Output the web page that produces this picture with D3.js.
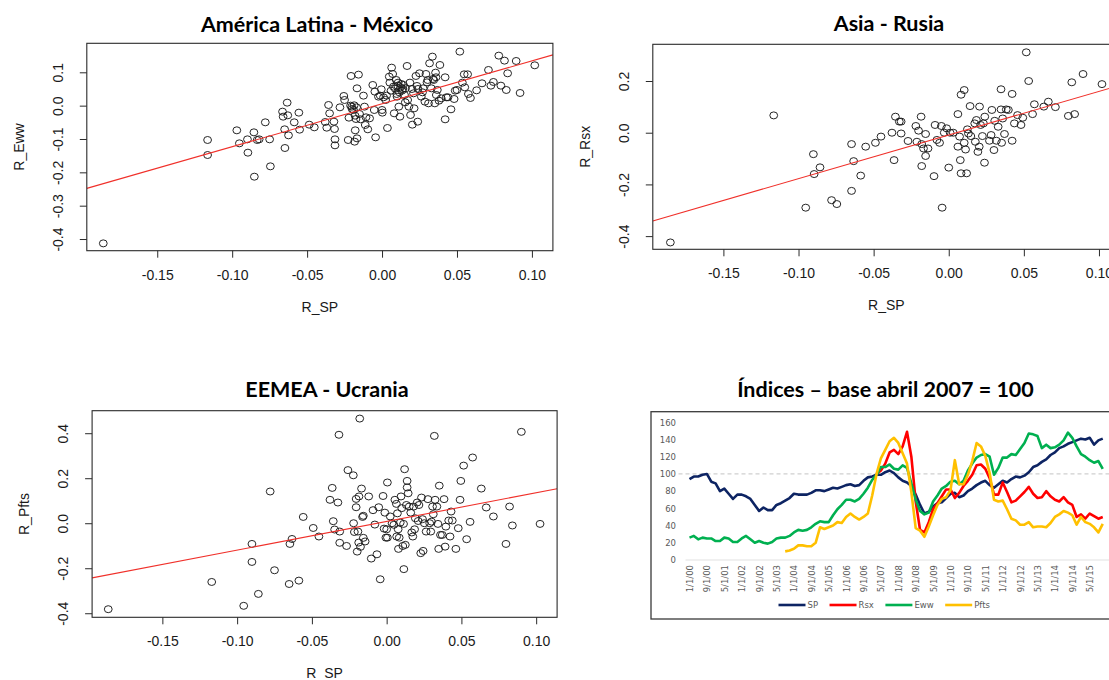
<!DOCTYPE html>
<html>
<head>
<meta charset="utf-8">
<script src="https://cdn.jsdelivr.net/npm/d3@7"></script>
<style>
  body { margin: 0; background: #ffffff; }
  svg { display: block; }
</style>
</head>
<body>
<svg id="chart" width="1109" height="680"></svg>
<script>
// ---------------------------------------------------------------
// Monthly returns: ETF vs S&P 500 (R_SP), with fitted OLS lines
// ---------------------------------------------------------------
const spTicks = [-0.15, -0.10, -0.05, 0.00, 0.05, 0.10];
const spDomain = [-0.197, 0.114];

const mexicoTicks = [-0.4, -0.3, -0.2, -0.1, 0.0, 0.1];
const mexicoDomain = [-0.435, 0.187];
const mexicoFit = [0.0055, 1.287];           // intercept, slope
const mexicoPoints = [
  [-0.186,-0.413],[-0.1164,-0.103],[-0.1164,-0.148],[-0.0969,-0.074],[-0.0952,-0.113],[-0.0898,-0.101],
  [-0.0895,-0.141],[-0.0855,-0.080],[-0.0852,-0.213],[-0.0833,-0.103],[-0.082,-0.101],[-0.0779,-0.050],
  [-0.075,-0.101],[-0.0745,-0.182],[-0.0664,-0.018],[-0.066,-0.033],[-0.065,-0.071],[-0.0648,-0.127],
  [-0.0633,0.009],[-0.0629,-0.029],[-0.0624,-0.089],[-0.0586,-0.050],[-0.0555,-0.021],[-0.055,-0.072],
  [-0.0486,-0.057],[-0.0452,-0.065],[-0.0379,-0.049],[-0.0369,-0.066],[-0.0357,0.002],[-0.035,-0.023],
  [-0.0321,-0.048],[-0.0317,-0.070],[-0.0314,-0.101],[-0.0314,-0.119],[-0.0281,-0.005],[-0.0255,0.029],
  [-0.025,0.017],[-0.0226,-0.103],[-0.0221,-0.036],[-0.0207,0.089],[-0.0202,-0.003],[-0.019,-0.013],
  [-0.0186,0.001],[-0.0183,-0.108],[-0.0179,-0.074],[-0.0174,-0.040],[-0.0167,0.052],[-0.0167,-0.098],
  [-0.0157,0.093],[-0.015,-0.025],[-0.0143,-0.041],[-0.0124,0.030],[-0.0117,-0.003],[-0.0112,-0.058],
  [-0.0107,-0.035],[-0.0095,-0.071],[-0.0083,-0.038],[-0.0062,0.062],[-0.0052,-0.013],[-0.0048,0.042],
  [-0.0043,-0.095],[-0.0024,0.027],[-0.0012,0.030],[-0.0005,0.049],[0.0,-0.013],[0.0002,-0.021],
  [0.0024,0.017],[0.0036,-0.067],[0.0048,0.087],[0.0052,0.069],[0.0064,0.114],[0.0071,0.095],
  [0.0076,0.057],[0.0081,-0.023],[0.0088,0.051],[0.0095,0.077],[0.01,0.027],[0.0107,0.069],
  [0.0112,-0.003],[0.0119,-0.033],[0.0124,0.055],[0.0133,0.045],[0.0143,0.062],[0.015,0.032],
  [0.0157,0.052],[0.0167,0.119],[0.0171,0.017],[0.0179,-0.003],[0.0186,0.069],[0.019,-0.028],
  [0.0202,-0.057],[0.021,0.037],[0.0214,-0.008],[0.0226,0.089],[0.0233,0.059],[0.0238,-0.048],
  [0.025,0.097],[0.0262,0.027],[0.0274,0.052],[0.0286,0.012],[0.0293,0.095],[0.0305,0.077],
  [0.031,0.007],[0.0317,0.127],[0.0329,0.052],[0.0336,0.147],[0.0345,0.077],[0.0352,0.007],
  [0.0357,0.099],[0.0362,0.032],[0.0369,0.047],[0.0386,0.122],[0.0395,0.022],[0.0421,0.085],
  [0.0421,-0.041],[0.0429,0.025],[0.044,0.025],[0.046,-0.011],[0.0481,0.020],[0.0488,0.045],
  [0.05,0.047],[0.0519,0.162],[0.0536,0.069],[0.0548,0.094],[0.0552,0.055],[0.0571,0.094],
  [0.0576,0.035],[0.059,0.023],[0.0631,0.046],[0.0667,0.067],[0.071,0.107],[0.0726,0.060],
  [0.0743,0.071],[0.0779,0.150],[0.0793,0.060],[0.0817,0.135],[0.0829,0.047],[0.0838,0.097],
  [0.0895,0.134],[0.0921,0.038],[0.1019,0.121],
  [0.0105,0.060],[0.0115,0.040],[0.0128,0.065],[0.0138,0.050],[0.0098,0.035],[0.006,0.045],
  [0.0155,0.010],[0.020,0.050],[-0.020,-0.010],[-0.017,-0.005],[-0.021,0.0],[-0.018,-0.030],
  [0.003,0.030],[0.001,0.025],[0.034,0.080],[0.036,0.085],[0.038,0.015],[0.024,0.050],
  [0.027,0.040],[0.030,0.070]
];

const rusiaTicks = [-0.4, -0.2, 0.0, 0.2];
const rusiaDomain = [-0.451, 0.342];
const rusiaFit = [-0.009, 1.687];
const rusiaPoints = [
  [-0.1853,-0.4245],[-0.1165,0.067],[-0.0952,-0.290],[-0.0901,-0.083],[-0.0896,-0.160],[-0.0857,-0.134],
  [-0.078,-0.261],[-0.0745,-0.276],[-0.0647,-0.044],[-0.0647,-0.225],[-0.0633,-0.110],[-0.0586,-0.166],
  [-0.0553,-0.054],[-0.0488,-0.039],[-0.0451,-0.015],[-0.0378,0.0],[-0.0364,-0.106],[-0.0355,0.062],
  [-0.0329,0.043],[-0.0317,0.043],[-0.0317,-0.003],[-0.0271,-0.032],[-0.0219,0.026],[-0.0212,-0.035],
  [-0.0201,0.008],[-0.0184,0.062],[-0.018,-0.129],[-0.018,-0.044],[-0.0168,-0.061],[-0.0154,-0.005],
  [-0.0154,-0.090],[-0.0138,-0.061],[-0.0098,-0.168],[-0.0091,0.030],[-0.0079,-0.028],[-0.0061,-0.039],
  [-0.0049,0.026],[-0.0044,-0.290],[-0.003,0.0],[-0.0014,0.017],[0.0,-0.135],[0.0009,0.0],
  [0.003,0.0],[0.0061,0.072],[0.0061,-0.054],[0.0072,-0.015],[0.0077,-0.106],[0.0082,0.147],
  [0.0082,-0.157],[0.0103,0.165],[0.0103,-0.039],[0.0112,-0.065],[0.0119,-0.157],[0.0124,0.013],
  [0.0131,-0.003],[0.0142,0.103],[0.0147,-0.013],[0.0173,0.036],[0.0177,-0.035],[0.0184,0.049],
  [0.0194,-0.074],[0.0203,-0.054],[0.0205,0.101],[0.0212,0.030],[0.0224,-0.013],[0.0231,0.036],
  [0.0238,-0.116],[0.024,0.062],[0.0271,-0.031],[0.0282,-0.009],[0.0287,0.088],[0.0301,-0.067],
  [0.0306,0.046],[0.0317,-0.031],[0.0329,0.023],[0.0348,0.168],[0.0348,0.090],[0.0352,-0.039],
  [0.0359,0.055],[0.0371,-0.005],[0.0383,0.090],[0.0397,0.088],[0.0422,0.150],[0.0422,-0.031],
  [0.0437,0.036],[0.0458,0.068],[0.0481,0.030],[0.0493,0.058],[0.0516,0.311],[0.0532,0.200],
  [0.0558,0.072],[0.057,0.110],[0.0633,0.101],[0.0663,0.120],[0.071,0.099],[0.0796,0.065],
  [0.0819,0.195],[0.0838,0.072],[0.0894,0.227],[0.102,0.188]
];

const ucraniaTicks = [-0.4, -0.2, 0.0, 0.2, 0.4];
const ucraniaDomain = [-0.418, 0.5];
const ucraniaFit = [0.008, 1.273];
const ucraniaPoints = [
  [-0.1862,-0.382],[-0.117,-0.261],[-0.0956,-0.367],[-0.0901,-0.092],[-0.0901,-0.172],[-0.0858,-0.314],
  [-0.0779,0.141],[-0.075,-0.209],[-0.0652,-0.270],[-0.0647,-0.092],[-0.0633,-0.070],[-0.0587,-0.255],
  [-0.0558,0.028],[-0.0491,-0.021],[-0.0453,-0.059],[-0.0379,0.104],[-0.0364,0.157],[-0.0357,0.009],
  [-0.0348,-0.028],[-0.0326,0.092],[-0.0319,0.393],[-0.0314,-0.087],[-0.0314,-0.037],[-0.0268,-0.101],
  [-0.0259,0.236],[-0.0223,0.213],[-0.0221,0.0],[-0.0216,-0.039],[-0.0204,0.071],[-0.0204,0.108],
  [-0.0197,-0.126],[-0.0192,-0.037],[-0.0187,-0.086],[-0.0185,0.119],[-0.018,0.465],[-0.0175,-0.105],
  [-0.0168,0.154],[-0.0161,0.028],[-0.0156,0.033],[-0.0156,-0.065],[-0.0144,-0.081],[-0.012,0.119],
  [-0.0103,-0.157],[-0.0091,0.058],[-0.0079,-0.006],[-0.0065,-0.138],[-0.0053,0.071],[-0.0043,-0.249],
  [-0.0024,0.121],[-0.0017,-0.024],[-0.0012,0.047],[-0.0005,-0.064],[0.0,-0.027],[0.0005,0.181],
  [0.0005,-0.064],[0.0024,0.030],[0.0036,0.0],[0.0048,-0.007],[0.0055,0.104],[0.0065,0.086],
  [0.0067,-0.059],[0.0072,0.044],[0.0077,-0.027],[0.0079,-0.114],[0.0084,-0.064],[0.0091,0.003],
  [0.0096,0.119],[0.0101,0.067],[0.0108,-0.101],[0.0113,-0.003],[0.0115,-0.204],[0.012,0.240],
  [0.0125,-0.096],[0.0132,0.081],[0.0137,0.188],[0.0137,0.159],[0.0144,0.133],[0.0151,0.074],
  [0.0161,0.047],[0.0168,-0.041],[0.0175,-0.059],[0.018,0.074],[0.0187,-0.027],[0.0192,0.022],
  [0.0204,0.092],[0.0211,0.010],[0.0216,0.081],[0.0228,-0.133],[0.0233,0.114],[0.024,0.018],
  [0.0244,-0.123],[0.0252,0.0],[0.0264,-0.037],[0.0276,0.107],[0.0288,0.0],[0.0295,-0.037],
  [0.03,0.007],[0.0307,0.074],[0.0312,0.040],[0.0319,0.388],[0.0324,0.104],[0.0336,0.074],
  [0.0343,-0.003],[0.0348,-0.114],[0.0352,0.167],[0.036,-0.052],[0.0372,-0.052],[0.0384,0.107],
  [0.0391,-0.104],[0.0396,-0.015],[0.0415,0.012],[0.0424,-0.059],[0.0431,0.052],[0.0439,0.012],
  [0.0463,-0.114],[0.0479,-0.022],[0.0491,0.104],[0.0496,0.188],[0.0515,0.256],[0.0535,-0.071],
  [0.0558,0.006],[0.0575,0.292],[0.0633,0.154],[0.0666,0.070],[0.0714,0.030],[0.0798,-0.092],
  [0.0822,0.074],[0.0841,-0.010],[0.0901,0.406],[0.1026,-0.003]
];

// ---------------------------------------------------------------
// Price indices, base April 2007 = 100 (one value every 2 months,
// Jan 2000 .. Nov 2015); null where the series has no history yet
// ---------------------------------------------------------------
const indexStart = { year: 2000, month: 0 };
const indexStepMonths = 2;
const indexLastMonth = 191;
const indexBase = 100;
const indexTicks = [0, 20, 40, 60, 80, 100, 120, 140, 160];
const indexLabelEvery = 8;                   // category label every 8 months

const spValues = [
  94,97,97,99,100,91,89,80,83,77,71,76,76,74,71,64,57,61,58,58,64,66,69,72,77,76,76,76,78,81,81,80,
  82,84,83,85,87,88,86,87,92,96,97,99,
  99,102,104,101,96,92,90,86,76,64,54,56,62,66,67,72,77,78,73,75,80,83,87,90,92,
  87,84,88,92,90,94,97,96,98,102,108,110,114,117,122,125,130,132,135,137,139,141,140,142,134,139,141
];
const rsxValues = [
  null,null,null,null,null,null,null,null,null,null,null,null,null,null,null,null,null,null,null,null,
  null,null,null,null,null,null,null,null,null,null,null,null,null,null,null,null,null,null,null,null,
  null,null,null,100,
  104,112,125,128,123,132,149,120,68,35,32,44,59,66,74,82,82,72,78,86,92,99,110,111,106,
  95,76,76,90,79,67,69,74,79,85,77,72,73,80,74,70,68,73,67,64,50,53,48,54,51,48,50
];
const ewwValues = [
  26,28,24,26,25,25,22,22,26,25,21,21,25,28,24,20,22,20,19,21,25,26,26,28,32,35,34,35,38,42,45,44,
  44,52,59,64,70,70,68,71,77,84,93,99,
  108,108,111,106,105,110,107,89,70,57,53,55,68,75,83,86,91,92,88,92,104,112,119,122,123,
  120,99,107,119,119,123,122,129,136,147,146,144,130,134,130,131,134,139,148,142,132,123,120,116,113,115,106
];
const pftsValues = [
  null,null,null,null,null,null,null,null,null,null,null,null,null,null,null,null,null,null,null,null,
  null,null,
  10,11,13,17,17,16,16,20,38,36,38,40,44,43,50,54,50,47,50,54,75,100,
  118,128,138,142,136,124,112,79,37,34,27,39,52,64,71,73,81,116,88,88,99,115,136,132,121,
  101,70,68,69,59,48,46,41,41,44,38,39,39,38,43,50,53,57,55,52,41,50,44,42,38,32,42
];
const seriesNames = ["SP", "Rsx", "Eww", "Pfts"];
const seriesColors = ["#0d2463", "#ff0000", "#00b050", "#ffc000"];

// ---------------------------------------------------------------
const svg = d3.select("#chart");
const rFont = "'Liberation Sans', Arial, Helvetica, sans-serif";
const titleFont = "Lato, 'Open Sans', sans-serif";

function scatterPanel(cfg) {
  const g = svg.append("g");
  const x = d3.scaleLinear().domain(spDomain).range([cfg.left, cfg.right]);
  const y = d3.scaleLinear().domain(cfg.yDomain).range([cfg.bottom, cfg.top]);

  const clipId = "clip-" + cfg.id;
  g.append("clipPath").attr("id", clipId).append("rect")
    .attr("x", cfg.left).attr("y", cfg.top)
    .attr("width", cfg.right - cfg.left).attr("height", cfg.bottom - cfg.top);

  const plot = g.append("g").attr("clip-path", `url(#${clipId})`);
  plot.selectAll("ellipse").data(cfg.points).join("ellipse")
    .attr("cx", d => x(d[0])).attr("cy", d => y(d[1]))
    .attr("rx", 3.9).attr("ry", 3.5)
    .attr("fill", "none").attr("stroke", "#1a1a1a").attr("stroke-width", 0.95);

  const [a, b] = cfg.fit;
  plot.append("line")
    .attr("x1", x(spDomain[0])).attr("y1", y(a + b * spDomain[0]))
    .attr("x2", x(spDomain[1])).attr("y2", y(a + b * spDomain[1]))
    .attr("stroke", "#f0302a").attr("stroke-width", 1.1);

  g.append("rect")
    .attr("x", cfg.left).attr("y", cfg.top)
    .attr("width", cfg.right - cfg.left).attr("height", cfg.bottom - cfg.top)
    .attr("fill", "none").attr("stroke", "#2a2a2a").attr("stroke-width", 1.1);

  // x axis
  const xa = g.append("g").attr("transform", `translate(0,${cfg.bottom})`)
    .call(d3.axisBottom(x).tickValues(spTicks).tickSize(7).tickPadding(12)
      .tickFormat(d => d.toFixed(2)));
  xa.select(".domain").remove();
  xa.selectAll("line").attr("stroke", "#2a2a2a");
  xa.selectAll("text").attr("font-family", rFont).attr("font-size", 14).attr("fill", "#1a1a1a");

  // y axis, labels parallel to the axis
  const ya = g.append("g").attr("transform", `translate(${cfg.left},0)`)
    .call(d3.axisLeft(y).tickValues(cfg.yTicks).tickSize(7)
      .tickFormat(d => d.toFixed(1)));
  ya.select(".domain").remove();
  ya.selectAll("line").attr("stroke", "#2a2a2a");
  ya.selectAll("text")
    .attr("x", null).attr("y", 0).attr("dy", "0.35em")
    .attr("transform", "translate(-29,0) rotate(-90)")
    .attr("text-anchor", "middle")
    .attr("font-family", rFont).attr("font-size", 14).attr("fill", "#1a1a1a");

  const cx = (cfg.left + cfg.right) / 2, cy = (cfg.top + cfg.bottom) / 2;
  g.append("text").attr("x", cx).attr("y", cfg.bottom + 56).attr("dy", "0.35em")
    .attr("text-anchor", "middle").attr("font-family", rFont).attr("font-size", 14)
    .attr("fill", "#1a1a1a").text("R_SP");
  g.append("text").attr("transform", `translate(${cfg.left - 68},${cy}) rotate(-90)`)
    .attr("dy", "0.35em").attr("text-anchor", "middle").attr("font-family", rFont)
    .attr("font-size", 14).attr("fill", "#1a1a1a").text(cfg.yLabel);

  g.append("text").attr("x", cfg.titleX).attr("y", cfg.titleY)
    .attr("text-anchor", "middle").attr("font-family", titleFont).attr("font-weight", 700)
    .attr("font-size", 21.5).attr("fill", "#000").text(cfg.title);
}

scatterPanel({ id: "mx", left: 86.8, right: 552.9, top: 43.3, bottom: 250.7,
  yDomain: mexicoDomain, yTicks: mexicoTicks, points: mexicoPoints, fit: mexicoFit,
  yLabel: "R_Eww", title: "América Latina - México", titleX: 317, titleY: 31.5 });
scatterPanel({ id: "ru", left: 652.8, right: 1120, top: 44.3, bottom: 249.3,
  yDomain: rusiaDomain, yTicks: rusiaTicks, points: rusiaPoints, fit: rusiaFit,
  yLabel: "R_Rsx", title: "Asia - Rusia", titleX: 889, titleY: 30.5 });
scatterPanel({ id: "ua", left: 92.1, right: 557.1, top: 410.7, bottom: 617.3,
  yDomain: ucraniaDomain, yTicks: ucraniaTicks, points: ucraniaPoints, fit: ucraniaFit,
  yLabel: "R_Pfts", title: "EEMEA - Ucrania", titleX: 327, titleY: 397 });

// ---------------------------------------------------------------
// Index line chart
// ---------------------------------------------------------------
(function indexChart() {
  const g = svg.append("g");
  const font = "'DejaVu Sans', Verdana, sans-serif";
  const grey = "#595959";
  const x = d3.scaleLinear().domain([0, indexLastMonth]).range([689.5, 689.5 + 2.175 * indexLastMonth]);
  const y = d3.scaleLinear().domain([0, 160]).range([560, 422.3]);

  g.append("text").attr("x", 885.5).attr("y", 397)
    .attr("text-anchor", "middle").attr("font-family", titleFont).attr("font-weight", 700)
    .attr("font-size", 21.5).attr("fill", "#000").text("Índices – base abril 2007 = 100");

  // frame
  g.append("rect").attr("x", 651).attr("y", 411.7).attr("width", 600).attr("height", 207.3)
    .attr("fill", "none").attr("stroke", "#3a3a3a").attr("stroke-width", 1.3);

  // baseline
  g.append("line").attr("x1", x(0) - 4).attr("x2", x(indexLastMonth) + 6)
    .attr("y1", y(0)).attr("y2", y(0)).attr("stroke", "#d9d9d9").attr("stroke-width", 0.8);

  // y axis labels
  const ya = g.append("g").attr("transform", "translate(679,0)")
    .call(d3.axisLeft(y).tickValues(indexTicks).tickSize(0).tickPadding(3));
  ya.select(".domain").remove();
  ya.selectAll("text").attr("font-family", font).attr("font-size", 8.5).attr("fill", grey);

  // x category labels, rotated
  const labelMonths = d3.range(0, indexLastMonth - 4, indexLabelEvery);
  const fmt = m => {
    const d = new Date(indexStart.year, indexStart.month + m, 1);
    return `${d.getMonth() + 1}/1/${String(d.getFullYear() % 100).padStart(2, "0")}`;
  };
  const xa = g.append("g").attr("transform", "translate(0,565)")
    .call(d3.axisBottom(x).tickValues(labelMonths).tickSize(0).tickFormat(fmt));
  xa.select(".domain").remove();
  xa.selectAll("text")
    .attr("y", 0).attr("dy", "0.35em")
    .attr("transform", "rotate(-90)").attr("text-anchor", "end")
    .attr("font-family", font).attr("font-size", 8.5).attr("fill", grey);

  // reference level
  g.append("line").attr("x1", x(0) - 11).attr("x2", x(indexLastMonth) + 8)
    .attr("y1", y(indexBase)).attr("y2", y(indexBase))
    .attr("stroke", "#cfcfcf").attr("stroke-width", 1.2).attr("stroke-dasharray", "4,3");

  const allValues = [spValues, rsxValues, ewwValues, pftsValues];
  const line = d3.line()
    .defined(d => d.v != null)
    .x(d => x(d.m)).y(d => y(d.v))
    .curve(d3.curveLinear);
  allValues.forEach((vals, i) => {
    const pts = vals.map((v, k) => ({ m: k * indexStepMonths, v }));
    g.append("path").datum(pts).attr("d", line)
      .attr("fill", "none").attr("stroke", seriesColors[i])
      .attr("stroke-width", 2.6).attr("stroke-linejoin", "round");
  });

  // legend
  let cursor = 778.5;
  seriesNames.forEach((name, i) => {
    g.append("line").attr("x1", cursor).attr("x2", cursor + 27)
      .attr("y1", 605).attr("y2", 605)
      .attr("stroke", seriesColors[i]).attr("stroke-width", 2.6);
    const t = g.append("text").attr("x", cursor + 29).attr("y", 605).attr("dy", "0.35em")
      .attr("font-family", font).attr("font-size", 8.5).attr("fill", grey).text(name);
    cursor += 29 + t.node().getComputedTextLength() + 11.5;
  });
})();
</script>
</body>
</html>
